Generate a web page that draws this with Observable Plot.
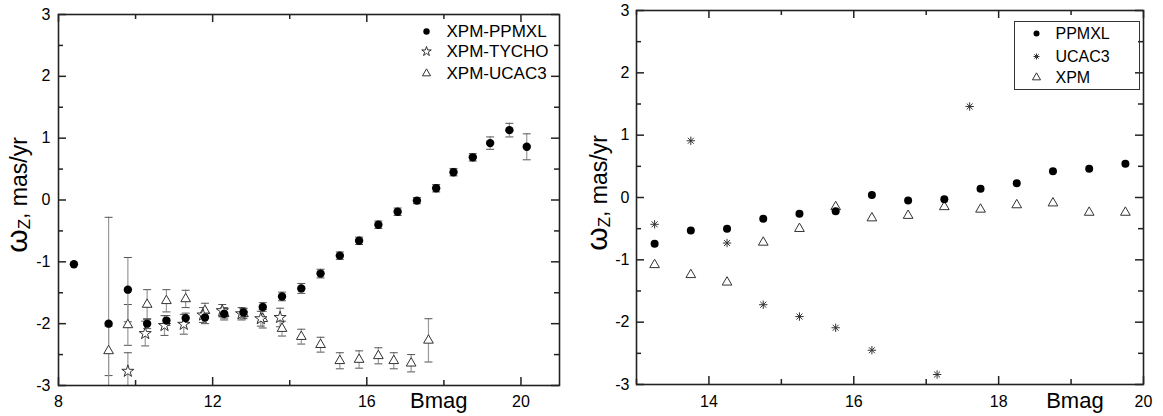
<!DOCTYPE html>
<html><head><meta charset="utf-8">
<script src="https://cdn.jsdelivr.net/npm/d3@7"></script>
<script src="https://cdn.jsdelivr.net/npm/@observablehq/plot@0.6"></script>
<style>
body{margin:0;background:#fff;}
#wrap{display:flex;width:1163px;height:416px;overflow:hidden;}
</style></head><body><div id="wrap"></div>
<script>
// ---------- Left panel data ----------
const leftB = [8.4, 9.3, 9.8, 10.3, 10.8, 11.3, 11.8, 12.3, 12.8, 13.3, 13.8, 14.3, 14.8, 15.3, 15.8, 16.3, 16.8, 17.3, 17.8, 18.25, 18.75, 19.2, 19.7, 20.15];
const leftPpmxl = [-1.04, -2.0, -1.45, -2.0, -1.95, -1.91, -1.9, -1.84, -1.82, -1.73, -1.56, -1.43, -1.19, -0.9, -0.66, -0.4, -0.19, -0.01, 0.19, 0.45, 0.69, 0.92, 1.13, 0.86];
const leftPpmxlErr = [0, 1.72, 0.52, 0.08, 0.08, 0.08, 0.1, 0.07, 0.07, 0.07, 0.07, 0.08, 0.07, 0.06, 0.06, 0.06, 0.06, 0.05, 0.06, 0.06, 0.06, 0.1, 0.11, 0.21];

const tychoB = [9.8, 10.25, 10.75, 11.25, 11.75, 12.25, 12.75, 13.25, 13.75];
const tycho = [-2.77, -2.16, -2.03, -2.01, -1.86, -1.79, -1.84, -1.92, -1.9];
const tychoErr = [0.3, 0.2, 0.16, 0.16, 0.12, 0.1, 0.1, 0.12, 0.15];

const ucacB = [9.3, 9.8, 10.3, 10.8, 11.3, 11.8, 12.3, 12.8, 13.3, 13.8, 14.3, 14.8, 15.3, 15.8, 16.3, 16.7, 17.15, 17.6];
const ucac = [-2.44, -2.02, -1.69, -1.63, -1.6, -1.79, -1.84, -1.84, -1.92, -2.08, -2.21, -2.34, -2.6, -2.58, -2.52, -2.6, -2.64, -2.27];
const ucacErr = [0.4, 0.33, 0.24, 0.18, 0.14, 0.12, 0.1, 0.08, 0.15, 0.12, 0.12, 0.12, 0.13, 0.14, 0.13, 0.13, 0.14, 0.35];

const leftLegend = ["XPM-PPMXL", "XPM-TYCHO", "XPM-UCAC3"];
const leftXMajor = [8, 12, 16, 20];
const leftXMinor = [10, 14, 18];
const leftXLabels = [8, 12, 16, 20];

// ---------- Right panel data ----------
const rightB = [13.25, 13.75, 14.25, 14.75, 15.25, 15.75, 16.25, 16.75, 17.25, 17.75, 18.25, 18.75, 19.25, 19.75];
const rightPpmxl = [-0.74, -0.53, -0.5, -0.34, -0.26, -0.22, 0.04, -0.05, -0.03, 0.14, 0.23, 0.42, 0.46, 0.54];
const rightXpm = [-1.08, -1.24, -1.36, -0.72, -0.5, -0.15, -0.33, -0.29, -0.15, -0.19, -0.12, -0.09, -0.24, -0.24];
const rightUcacB = [13.25, 13.75, 14.25, 14.75, 15.25, 15.75, 16.25, 17.15, 17.6];
const rightUcac = [-0.43, 0.91, -0.73, -1.72, -1.91, -2.09, -2.45, -2.84, 1.46];

const rightLegend = ["PPMXL", "UCAC3", "XPM"];
const rightXMajor = [14, 16, 18, 20];
const rightXMinor = [13, 15, 17, 19];
const rightXLabels = [14, 16, 18, 20];

const yMajor = [-3, -2, -1, 0, 1, 2, 3];
const yMinor = [-2.5, -1.5, -0.5, 0.5, 1.5, 2.5];
const yLabels = [-3, -2, -1, 0, 1, 2, 3];

// ---------- helpers ----------
const FONT = "'Liberation Sans', Arial, sans-serif";
const zip = (b, w, e) => b.map((x, i) => ({b: x, w: w[i], e: e ? e[i] : 0}));
const capSymbol = {draw(ctx) { ctx.moveTo(-4, 0); ctx.lineTo(4, 0); }};
// eight-armed asterisk like the reference
const star8 = {draw(ctx, size) {
  const r = Math.sqrt(size / Math.PI), d = r * Math.SQRT1_2;
  ctx.moveTo(0, -r); ctx.lineTo(0, r);
  ctx.moveTo(-r, 0); ctx.lineTo(r, 0);
  ctx.moveTo(-d, -d); ctx.lineTo(d, d);
  ctx.moveTo(-d, d); ctx.lineTo(d, -d);
}};

function frameTicks(innerW, innerH, xMajor, xMinor) {
  const c = "#222", sw = 1.5, M = 8, m = 5;
  return [
    Plot.ruleX(xMajor, {x: d => d, insetTop: innerH - M, stroke: c, strokeWidth: sw}),
    Plot.ruleX(xMajor, {x: d => d, insetBottom: innerH - M, stroke: c, strokeWidth: sw}),
    Plot.ruleX(xMinor, {x: d => d, insetTop: innerH - m, stroke: c, strokeWidth: sw}),
    Plot.ruleX(xMinor, {x: d => d, insetBottom: innerH - m, stroke: c, strokeWidth: sw}),
    Plot.ruleY(yMajor, {y: d => d, insetRight: innerW - M, stroke: c, strokeWidth: sw}),
    Plot.ruleY(yMajor, {y: d => d, insetLeft: innerW - M, stroke: c, strokeWidth: sw}),
    Plot.ruleY(yMinor, {y: d => d, insetRight: innerW - m, stroke: c, strokeWidth: sw}),
    Plot.ruleY(yMinor, {y: d => d, insetLeft: innerW - m, stroke: c, strokeWidth: sw}),
    Plot.frame({stroke: "#222", strokeWidth: 1.6})
  ];
}

function errorBars(data) {
  const d = data.filter(p => p.e > 0);
  return [
    Plot.ruleX(d, {x: "b", y1: p => p.w - p.e, y2: p => p.w + p.e, stroke: "#999", strokeWidth: 1.2, clip: true}),
    Plot.dot(d, {x: "b", y: p => p.w - p.e, symbol: capSymbol, stroke: "#555", strokeWidth: 1, clip: true}),
    Plot.dot(d, {x: "b", y: p => p.w + p.e, symbol: capSymbol, stroke: "#555", strokeWidth: 1, clip: true})
  ];
}

function yLabel(svg, x, y) {
  const t = d3.select(svg).append("text")
    .attr("transform", `translate(${x},${y}) rotate(-90)`)
    .attr("text-anchor", "middle").attr("fill", "#000").attr("font-family", FONT);
  t.append("tspan").attr("font-size", 30).text("ω");
  t.append("tspan").attr("font-size", 17).attr("dy", 3).text("Z");
  t.append("tspan").attr("font-size", 23).attr("dy", -3).text(", mas/yr");
}

function bmag(svg, plot, xv) {
  d3.select(svg).append("text")
    .attr("x", plot.scale("x").apply(xv)).attr("y", 408)
    .attr("text-anchor", "middle").attr("font-family", FONT).attr("font-size", 22).attr("fill", "#000")
    .text("Bmag");
}

// ---------- Left panel ----------
{
  const W = 580, H = 416, ml = 58, mr = 21, mt = 14, mb = 31;
  const iw = W - ml - mr, ih = H - mt - mb;
  const pp = zip(leftB, leftPpmxl, leftPpmxlErr);
  const ty = zip(tychoB, tycho, tychoErr);
  const uc = zip(ucacB, ucac, ucacErr);
  const legSym = ["circle", "star", "triangle"];
  const legDy = [17, 37, 59];
  const plot = Plot.plot({
    width: W, height: H, marginLeft: ml, marginRight: mr, marginTop: mt, marginBottom: mb,
    style: {fontFamily: FONT, fontSize: "16px", color: "#000", background: "#fff"},
    x: {domain: [8, 21]},
    y: {domain: [-3, 3]},
    marks: [
      ...errorBars(uc), ...errorBars(ty), ...errorBars(pp),
      Plot.dot(uc, {x: "b", y: "w", symbol: "triangle", r: 3.6, stroke: "#333", fill: "#fff", strokeWidth: 1}),
      Plot.dot(ty, {x: "b", y: "w", symbol: "star", r: 3.8, stroke: "#333", fill: "#fff", strokeWidth: 1}),
      Plot.dot(pp, {x: "b", y: "w", symbol: "circle", r: 4.2, fill: "#000"}),
      ...frameTicks(iw, ih, leftXMajor, leftXMinor),
      Plot.axisX(leftXLabels, {tickSize: 0, tickPadding: 10, tickFormat: d => String(d), label: null, fontSize: 16}),
      Plot.axisY(yLabels, {tickSize: 0, tickPadding: 8, tickFormat: d => String(d), label: null, fontSize: 16}),
      ...leftLegend.map((name, i) => Plot.dot([name], {frameAnchor: "top-left", dx: 368, dy: legDy[i], symbol: legSym[i], r: i === 0 ? 3.2 : 3, fill: i === 0 ? "#000" : "#fff", stroke: i === 0 ? "none" : "#333", strokeWidth: 1})),
      ...leftLegend.map((name, i) => Plot.text([name], {frameAnchor: "top-left", dx: 388, dy: legDy[i], text: d => d, textAnchor: "start", lineAnchor: "middle", fontSize: 17, fill: "#000"}))
    ]
  });
  document.getElementById("wrap").appendChild(plot);
  yLabel(plot, 27, 195);
  bmag(plot, plot, 17.88);
}

// ---------- Right panel ----------
{
  const W = 583, H = 416, ml = 56, mr = 20, mt = 10, mb = 32;
  const iw = W - ml - mr, ih = H - mt - mb;
  const pp = zip(rightB, rightPpmxl);
  const xp = zip(rightB, rightXpm);
  const uc = zip(rightUcacB, rightUcac);
  const legSym = ["circle", star8, "triangle"];
  const legDy = [23, 46, 67];
  const plot = Plot.plot({
    width: W, height: H, marginLeft: ml, marginRight: mr, marginTop: mt, marginBottom: mb,
    style: {fontFamily: FONT, fontSize: "16px", color: "#000", background: "#fff"},
    x: {domain: [13, 20]},
    y: {domain: [-3, 3]},
    marks: [
      Plot.dot(xp, {x: "b", y: "w", symbol: "triangle", r: 3.6, stroke: "#333", fill: "#fff", strokeWidth: 1}),
      Plot.dot(uc, {x: "b", y: "w", symbol: star8, r: 4.2, stroke: "#333", strokeWidth: 1}),
      Plot.dot(pp, {x: "b", y: "w", symbol: "circle", r: 4, fill: "#000"}),
      ...frameTicks(iw, ih, rightXMajor, rightXMinor),
      Plot.axisX(rightXLabels, {tickSize: 0, tickPadding: 11, tickFormat: d => String(d), label: null, fontSize: 16}),
      Plot.axisY(yLabels, {tickSize: 0, tickPadding: 7, tickFormat: d => String(d), label: null, fontSize: 16}),
      Plot.frame({insetLeft: 378, insetRight: iw - 503, insetTop: 11, insetBottom: ih - 79, stroke: "#333", strokeWidth: 1}),
      ...rightLegend.map((name, i) => Plot.dot([name], {frameAnchor: "top-left", dx: 400, dy: legDy[i], symbol: legSym[i], r: 3, fill: i === 0 ? "#000" : (i === 2 ? "#fff" : "none"), stroke: i === 0 ? "none" : "#333", strokeWidth: 1})),
      ...rightLegend.map((name, i) => Plot.text([name], {frameAnchor: "top-left", dx: 419, dy: legDy[i], text: d => d, textAnchor: "start", lineAnchor: "middle", fontSize: 16, fill: "#000"}))
    ]
  });
  document.getElementById("wrap").appendChild(plot);
  yLabel(plot, 27, 193);
  bmag(plot, plot, 19.06);
}
</script>
</body></html>
